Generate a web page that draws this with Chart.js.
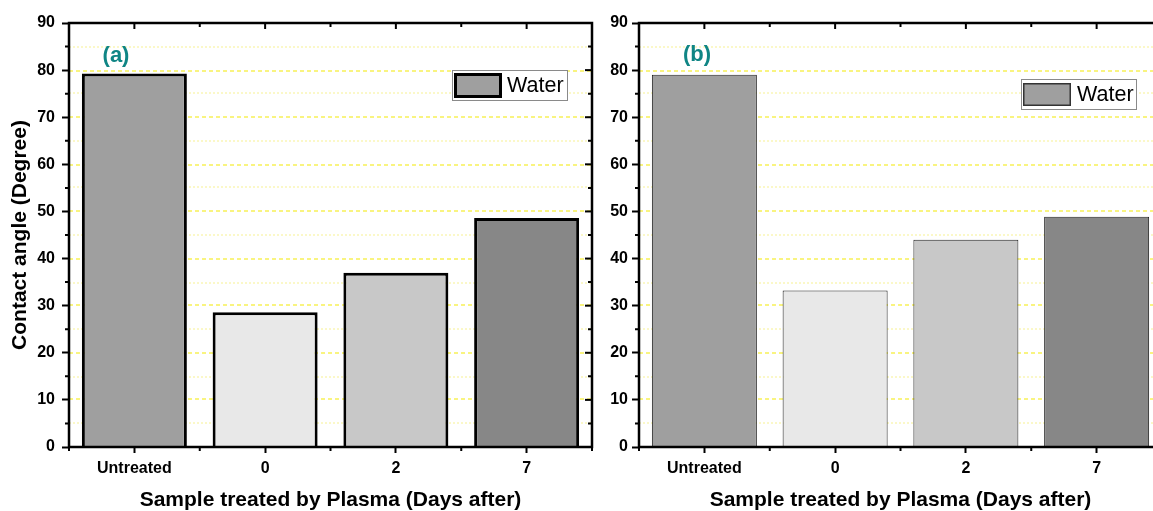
<!DOCTYPE html>
<html>
<head>
<meta charset="utf-8">
<script src="https://cdn.jsdelivr.net/npm/chart.js@4.4.1/dist/chart.umd.min.js"></script>
<style>
  html, body { margin: 0; padding: 0; background: #fff; width: 1153px; height: 511px; overflow: hidden; }
  canvas { position: absolute; top: 0; }
  #cA { left: 0px; }
  #cB { left: 580px; }
</style>
</head>
<body>
<canvas id="cA" width="620" height="511"></canvas>
<canvas id="cB" width="620" height="511"></canvas>
<script>
// ---- data ----
const categories = ['Untreated', '0', '2', '7'];
const waterA = [79.3, 28.6, 37.0, 48.6];
const waterB = [79.0, 33.2, 44.0, 48.9];
const seriesLabel = 'Water';
const yMin = 0, yMax = 90, yStep = 10;
const panelLabels = ['(a)', '(b)'];
const xTitle = 'Sample treated by Plasma (Days after)';
const yTitle = 'Contact angle (Degree)';

// ---- styles ----
const barColors = ['#9f9f9f', '#e8e8e8', '#c8c8c8', '#878787'];
const FONT = "'Liberation Sans', Arial, Helvetica, sans-serif";
Chart.defaults.font.family = FONT;
Chart.defaults.color = '#000';

const framePlugin = {
  id: 'frame',
  beforeDatasetsDraw(chart, args, o) {
    const { ctx, chartArea: a, scales: { y } } = chart;
    ctx.save();
    ctx.lineWidth = 2;
    // minor grid (dotted)
    ctx.strokeStyle = '#fbf8c8';
    ctx.setLineDash([2, 2]);
    for (let v = yMin + yStep / 2; v < yMax; v += yStep) {
      const py = 2 * Math.floor(y.getPixelForValue(v) / 2) + 1;
      ctx.beginPath(); ctx.moveTo(a.left, py); ctx.lineTo(a.right, py); ctx.stroke();
    }
    // major grid (dashed)
    ctx.strokeStyle = '#f9f480';
    ctx.setLineDash([4, 3]);
    for (let v = yMin + yStep; v < yMax; v += yStep) {
      const py = 2 * Math.floor(y.getPixelForValue(v) / 2) + 1;
      ctx.beginPath(); ctx.moveTo(a.left, py); ctx.lineTo(a.right, py); ctx.stroke();
    }
    ctx.restore();
  },
  afterDatasetsDraw(chart, args, o) {
    const { ctx, chartArea: a, scales: { x, y } } = chart;
    ctx.save();
    ctx.setLineDash([]);
    ctx.strokeStyle = '#000';
    ctx.lineWidth = 2;
    for (let v = yMin; v <= yMax; v += yStep / 2) {
      const py = y.getPixelForValue(v);
      const major = Math.abs((v / yStep) - Math.round(v / yStep)) < 1e-6;
      ctx.beginPath();
      if (!major) { ctx.moveTo(a.left - 4, py); ctx.lineTo(a.left, py); }
      ctx.moveTo(a.right, py); ctx.lineTo(a.right - (major ? 7 : 4), py);
      ctx.stroke();
    }
    const n = chart.data.labels.length;
    for (let i = 0; i < n; i++) {
      const px = x.getPixelForValue(i);
      ctx.beginPath(); ctx.moveTo(px, a.top); ctx.lineTo(px, a.top + 6); ctx.stroke();
    }
    for (let i = 0; i <= n; i++) {
      const px = (i === 0) ? a.left : (i === n ? a.right : (x.getPixelForValue(i - 1) + x.getPixelForValue(i)) / 2);
      ctx.beginPath();
      ctx.moveTo(px, a.bottom); ctx.lineTo(px, a.bottom + 4);
      ctx.moveTo(px, a.top); ctx.lineTo(px, a.top + 4);
      ctx.stroke();
    }
    ctx.lineWidth = 2.5;
    ctx.strokeRect(a.left, a.top, a.right - a.left, a.bottom - a.top);

    ctx.fillStyle = '#0f8585';
    ctx.font = 'bold 22px ' + FONT;
    ctx.textAlign = 'center';
    ctx.textBaseline = 'middle';
    ctx.fillText(o.label, o.labelX, o.labelY);

    const L = o.legend;
    ctx.fillStyle = '#fff';
    ctx.fillRect(L.x, L.y, L.w, L.h);
    ctx.lineWidth = 1;
    ctx.strokeStyle = '#8a8a8a';
    ctx.strokeRect(L.x + 0.5, L.y + 0.5, L.w, L.h);
    ctx.fillStyle = barColors[0];
    ctx.fillRect(L.sx, L.sy, L.sw, L.sh);
    ctx.lineWidth = L.sb;
    ctx.strokeStyle = L.sc;
    ctx.strokeRect(L.sx + L.sb / 2, L.sy + L.sb / 2, L.sw - L.sb, L.sh - L.sb);
    ctx.fillStyle = '#000';
    ctx.font = '21.5px ' + FONT;
    ctx.textAlign = 'left';
    ctx.textBaseline = 'middle';
    ctx.fillText(chart.data.datasets[0].label, L.tx, L.ty);
    ctx.restore();
  }
};

function makeChart(id, values, opt) {
  return new Chart(document.getElementById(id), {
    type: 'bar',
    data: {
      labels: categories,
      datasets: [{
        label: seriesLabel,
        data: values,
        backgroundColor: barColors,
        borderColor: opt.barBorderColor,
        borderWidth: opt.barBorder,
        borderSkipped: 'bottom',
        categoryPercentage: 1.0,
        barPercentage: 0.803
      }]
    },
    options: {
      responsive: false,
      animation: false,
      devicePixelRatio: 1,
      layout: { padding: { left: 0, right: opt.padRight, top: 23, bottom: 0 } },
      plugins: {
        legend: { display: false },
        tooltip: { enabled: false },
        frame: opt.frame
      },
      scales: {
        x: {
          type: 'category',
          offset: true,
          grid: { display: true, drawOnChartArea: false, offset: false, tickLength: 6, tickColor: '#000', tickWidth: 2 },
          border: { display: false },
          ticks: { font: { size: 16, weight: 'bold' }, color: '#000', padding: 6, maxRotation: 0, autoSkip: false },
          title: { display: true, text: xTitle, font: { size: 21, weight: 'bold', lineHeight: 1 }, color: '#000', padding: { top: 0, bottom: 0 } },
          afterFit(s) { s.height = 64; }
        },
        y: {
          min: yMin, max: yMax,
          grid: { display: true, drawOnChartArea: false, tickLength: 7, tickColor: '#000', tickWidth: 2 },
          border: { display: false },
          ticks: { stepSize: yStep, font: { size: 16, weight: 'bold' }, color: '#000', padding: opt.yPad },
          title: { display: opt.showYTitle, text: yTitle, font: { size: 21, weight: 'bold', lineHeight: 1 }, color: '#000', padding: { top: 10, bottom: 0 } },
          afterFit(s) { s.width = opt.yWidth; }
        }
      }
    },
    plugins: [framePlugin]
  });
}

makeChart('cA', waterA, {
  barBorder: 3, barBorderColor: '#000', padRight: 28, yWidth: 69, yPad: 7, showYTitle: true,
  frame: {
    label: panelLabels[0], labelX: 116, labelY: 56,
    legend: { x: 452, y: 70, w: 115, h: 30, sx: 454, sy: 73, sw: 48, sh: 25, sb: 3, sc: '#000', tx: 507, ty: 86 }
  }
});
makeChart('cB', waterB, {
  barBorder: 1, barBorderColor: '#222', padRight: 38, yWidth: 59, yPad: 4, showYTitle: false,
  frame: {
    label: panelLabels[1], labelX: 697 - 580, labelY: 55,
    legend: { x: 1021 - 580, y: 79, w: 115, h: 30, sx: 1023 - 580, sy: 83, sw: 48, sh: 23, sb: 1.5, sc: '#333', tx: 1077 - 580, ty: 95 }
  }
});
</script>
</body>
</html>
